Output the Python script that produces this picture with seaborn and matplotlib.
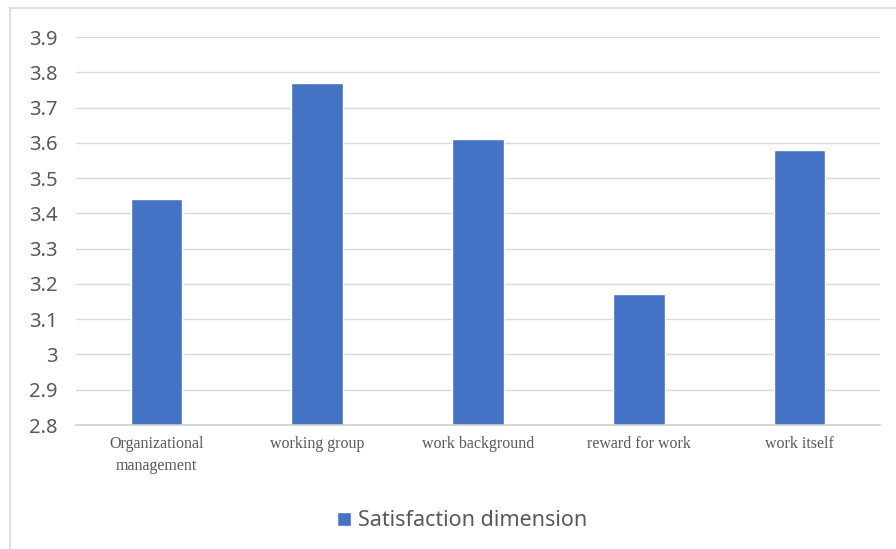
import pandas as pd
import numpy as np
import matplotlib.pyplot as plt
import seaborn as sns
from matplotlib.patches import Rectangle

categories = ['Organizational\nmanagement', 'working group', 'work background', 'reward for work', 'work itself']
values = [3.44, 3.77, 3.61, 3.17, 3.58]
series_name = 'Satisfaction dimension'
y_ticks = [2.8, 2.9, 3.0, 3.1, 3.2, 3.3, 3.4, 3.5, 3.6, 3.7, 3.8, 3.9]
y_tick_labels = ['2.8', '2.9', '3', '3.1', '3.2', '3.3', '3.4', '3.5', '3.6', '3.7', '3.8', '3.9']

df = pd.DataFrame({'category': categories, 'value': values, 'series': series_name})

sns.set_theme(style='white')
plt.rcParams['font.family'] = ['Noto Sans', 'DejaVu Sans']

fig = plt.figure(figsize=(8.96, 5.49), dpi=100)
ax = fig.add_axes([76 / 896, 1 - 425 / 549, (880 - 76) / 896, (425 - 37) / 549])

sns.barplot(data=df, x='category', y='value', hue='series', palette=['#4472C4'],
            width=0.32, ax=ax, saturation=1)

ax.set_ylim(2.8, 3.9)
ax.set_yticks(y_ticks)
ax.set_yticklabels(y_tick_labels, fontsize=14.5, color='#595959')
ax.set_xticklabels(categories, fontsize=11.5, color='#595959', family=['Liberation Serif'],
                   linespacing=1.45, va='top')
ax.tick_params(axis='x', length=0, pad=8)
ax.tick_params(axis='y', length=0, pad=13.5)
ax.set_xlabel('')
ax.set_ylabel('')
ax.yaxis.grid(True, color='#d9d9d9', linewidth=1)
ax.set_axisbelow(True)
for s in ['top', 'right', 'left']:
    ax.spines[s].set_visible(False)
ax.spines['bottom'].set_color('#d0d0d0')
ax.spines['bottom'].set_linewidth(1.2)

leg = ax.legend(loc='center', bbox_to_anchor=(462 / 896, 1 - 521 / 549), bbox_transform=fig.transFigure,
                frameon=False, fontsize=15.5, handlelength=0.65, handleheight=0.65, handletextpad=0.3)
for t in leg.get_texts():
    t.set_color('#595959')

fig.patches.append(Rectangle((9.5 / 896, -0.05), 1.0, 1 - 7.5 / 549 + 0.05, transform=fig.transFigure,
                             fill=False, edgecolor='#d9d9d9', linewidth=1.2))

fig.savefig('out.png', dpi=100)
